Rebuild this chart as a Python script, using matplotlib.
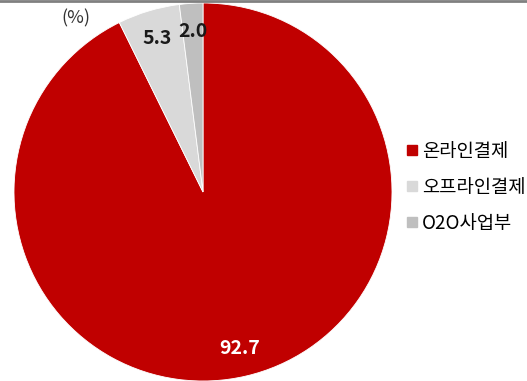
import matplotlib
matplotlib.use("Agg")
import matplotlib.pyplot as plt
from matplotlib.lines import Line2D

plt.rcParams["font.family"] = ["Noto Sans CJK KR", "DejaVu Sans"]

# payment revenue mix (%)
categories = ["온라인결제", "오프라인결제", "O2O사업부"]
shares = [92.7, 5.3, 2.0]
colors = ["#C00000", "#D9D9D9", "#BFBFBF"]
label_colors = ["white", "#1a1a1a", "#1a1a1a"]

fig = plt.figure(figsize=(5.27, 3.81), dpi=100)
ax = fig.add_axes([14 / 527, 0, 378 / 527, 378 / 381])

wedges, texts = ax.pie(shares, colors=colors, startangle=90, counterclock=False,
                       radius=1, labels=[f"{v:.1f}" for v in shares], labeldistance=0.85,
                       wedgeprops=dict(edgecolor="white", linewidth=0.6))
for t, c in zip(texts, label_colors):
    t.set_color(c)
    t.set_fontsize(14)
    t.set_fontweight("bold")
    t.set_ha("center")
    t.set_va("center")
ax.set_xlim(-1, 1)
ax.set_ylim(-1, 1)
ax.set_aspect("equal")
ax.axis("off")

fig.text(76 / 527, 1 - 18 / 381, "(%)", ha="center", va="center", fontsize=13, color="#333333")

handles = [Line2D([], [], marker="s", linestyle="none", markersize=7, color=c) for c in colors]
fig.legend(handles, categories, loc="center left", bbox_to_anchor=(397 / 527, 1 - 187 / 381),
           frameon=False, fontsize=13.5, handlelength=0.55, handletextpad=0.3, labelspacing=0.8,
           borderpad=0)

fig.add_artist(Line2D([0, 1], [0.997, 0.997], color="#808080", linewidth=2))

fig.savefig("out.png", dpi=100)
